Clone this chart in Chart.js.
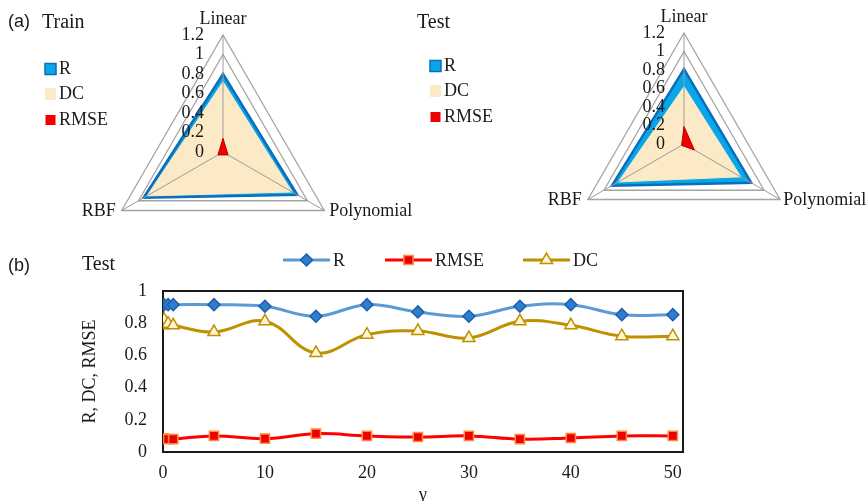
<!DOCTYPE html>
<html><head><meta charset="utf-8">
<script src="https://cdn.jsdelivr.net/npm/chart.js@4.4.1/dist/chart.umd.min.js"></script>
<style>
html,body{margin:0;padding:0;background:#fff;}
#wrap{position:relative;width:867px;height:501px;overflow:hidden;background:#fff;}
.box{position:absolute;}
</style></head><body>
<div id="wrap">
<div class="box" style="left:0;top:235px;width:867px;height:266px"><canvas id="lineChart"></canvas></div>
<div class="box" style="left:0;top:0;width:430px;height:280px"><canvas id="trainChart"></canvas></div>
<div class="box" style="left:400px;top:0;width:467px;height:280px"><canvas id="testChart"></canvas></div>
</div>
<script>
const SERIF = '"Liberation Serif", "Times New Roman", serif';
const SANS = '"Liberation Sans", Arial, sans-serif';
const TEXT = '#1a1a1a';

// ---------- radar data ----------
const kernels = ['Linear', 'Polynomial', 'RBF'];
const radarTicks = [0, 0.2, 0.4, 0.6, 0.8, 1, 1.2];
const radarTickLabels = ['0', '0.2', '0.4', '0.6', '0.8', '1', '1.2'];
const trainR = [0.80, 0.88, 0.94];
const trainDC = [0.72, 0.82, 0.90];
const trainRMSE = [0.14, 0.06, 0.06];
const testR = [0.81, 0.84, 0.90];
const testDC = [0.62, 0.71, 0.82];
const testRMSE = [0.19, 0.13, 0.03];
const radarSeries = ['R', 'DC', 'RMSE'];

// ---------- line data ----------
const gamma = [0, 0.1, 0.5, 1, 5, 10, 15, 20, 25, 30, 35, 40, 45, 50];
const lineR = [0.915, 0.915, 0.915, 0.915, 0.915, 0.905, 0.843, 0.915, 0.87, 0.843, 0.905, 0.915, 0.853, 0.853];
const lineRMSE = [0.083, 0.083, 0.08, 0.08, 0.10, 0.083, 0.114, 0.10, 0.093, 0.10, 0.08, 0.087, 0.10, 0.10];
const lineDC = [0.787, 0.822, 0.797, 0.787, 0.745, 0.812, 0.615, 0.729, 0.752, 0.708, 0.812, 0.787, 0.719, 0.719];
const xTicks = [0, 10, 20, 30, 40, 50];
const xTickLabels = ['0', '10', '20', '30', '40', '50'];
const yTicks = [0, 0.2, 0.4, 0.6, 0.8, 1];
const yTickLabels = ['0', '0.2', '0.4', '0.6', '0.8', '1'];

Chart.defaults.font.family = SERIF;
Chart.defaults.color = TEXT;

const COL = {
  rFill: '#07A7EA', rLine: '#0B6DBC',
  dc: '#FCE9C6',
  rmse: '#F20000', rmseLine: '#B80000',
  grid: '#a3a3a3'
};

function radarPlugin(cfg) {
  return {
    id: 'radarOverlay',
    afterDatasetDraw(chart, args) {
      if (args.index !== 1) return; // after DC fill: draw spokes
      const s = chart.scales.r, ctx = chart.ctx;
      ctx.save();
      ctx.strokeStyle = '#9c9c9c'; ctx.lineWidth = 1;
      for (let i = 0; i < kernels.length; i++) {
        const p = s.getPointPositionForValue(i, s.max);
        ctx.beginPath(); ctx.moveTo(s.xCenter, s.yCenter); ctx.lineTo(p.x, p.y); ctx.stroke();
      }
      ctx.restore();
    },
    afterDraw(chart) {
      const s = chart.scales.r, ctx = chart.ctx;
      ctx.save();
      ctx.fillStyle = TEXT;
      ctx.textBaseline = 'middle';
      ctx.font = '18px ' + SERIF;
      ctx.textAlign = 'right';
      radarTicks.forEach((v, i) => {
        const y = s.yCenter - s.getDistanceFromCenterForValue(v);
        ctx.fillText(radarTickLabels[i], s.xCenter - 19, y);
      });
      const p0 = s.getPointPositionForValue(0, s.max);
      const p1 = s.getPointPositionForValue(1, s.max);
      const p2 = s.getPointPositionForValue(2, s.max);
      ctx.textAlign = 'center';
      ctx.fillText(kernels[0], p0.x, p0.y - 16);
      ctx.textAlign = 'left';
      ctx.fillText(kernels[1], p1.x + cfg.polyDx, p1.y + 1);
      ctx.textAlign = 'right';
      ctx.fillText(kernels[2], p2.x - 6, p2.y + 1);
      ctx.textAlign = 'left';
      if (cfg.panel) {
        ctx.font = '18px ' + SANS;
        ctx.fillText(cfg.panel, cfg.panelX, cfg.titleY - 1);
      }
      ctx.font = '20px ' + SERIF;
      ctx.fillText(cfg.title, cfg.titleX, cfg.titleY);
      const lx = cfg.legX;
      ctx.font = '18px ' + SERIF;
      ctx.fillStyle = COL.rFill; ctx.strokeStyle = COL.rLine; ctx.lineWidth = 1.5;
      ctx.fillRect(lx, cfg.legY[0] - 5.5, 11, 11); ctx.strokeRect(lx, cfg.legY[0] - 5.5, 11, 11);
      ctx.fillStyle = COL.dc;
      ctx.fillRect(lx, cfg.legY[1] - 6, 11, 12);
      ctx.fillStyle = COL.rmse;
      ctx.fillRect(lx + 0.5, cfg.legY[2] - 5, 10, 10);
      ctx.fillStyle = TEXT;
      radarSeries.forEach((name, i) => ctx.fillText(name, lx + 14, cfg.legY[i] + 0.5));
      ctx.restore();
    }
  };
}

function makeRadar(id, R, DC, RMSE, pad, cfg) {
  return new Chart(document.getElementById(id), {
    type: 'radar',
    data: {
      labels: kernels,
      datasets: [
        { label: radarSeries[0], data: R, order: 3, fill: true, backgroundColor: COL.rFill, borderColor: COL.rLine, borderWidth: 2.5 },
        { label: radarSeries[1], data: DC, order: 2, fill: true, backgroundColor: COL.dc, borderColor: COL.dc, borderWidth: 1 },
        { label: radarSeries[2], data: RMSE, order: 1, fill: true, backgroundColor: COL.rmse, borderColor: COL.rmseLine, borderWidth: 1 }
      ]
    },
    options: {
      responsive: true, maintainAspectRatio: false, animation: false,
      layout: { padding: pad },
      plugins: { legend: { display: false }, tooltip: { enabled: false } },
      elements: { line: { tension: 0 }, point: { radius: 0, hoverRadius: 0 } },
      scales: {
        r: {
          min: 0, max: 1.2,
          ticks: { display: false, stepSize: 0.2 },
          grid: { color: COL.grid, lineWidth: 1.3 },
          angleLines: { display: false },
          pointLabels: { display: false }
        }
      }
    },
    plugins: [radarPlugin(cfg)]
  });
}

makeRadar('trainChart', trainR, trainDC, trainRMSE,
  { left: 106, right: 90, top: 35, bottom: 11 },
  { panel: '(a)', panelX: 8, title: 'Train', titleX: 42, titleY: 23, legX: 45, legY: [69, 94, 120], polyDx: 5 });

makeRadar('testChart', testR, testDC, testRMSE,
  { left: 173, right: 72, top: 33, bottom: 25 },
  { panel: null, title: 'Test', titleX: 17, titleY: 23, legX: 30, legY: [66, 91, 117], polyDx: 3 });

// ---------- line chart ----------
const lineSeries = [
  { label: 'R', data: lineR, color: '#5B9BD5', style: 'rectRot', radius: 6, bg: '#2E7ED0', bd: '#1D5EA8', legX: 283 },
  { label: 'RMSE', data: lineRMSE, color: '#FF0000', style: 'rect', radius: 6.5, bg: '#EE0000', bd: '#FF8A3D', legX: 385 },
  { label: 'DC', data: lineDC, color: '#BF9000', style: 'triangle', radius: 7, bg: '#FFF6DA', bd: '#BF9000', legX: 523 }
];

function drawMarker(ctx, style, r, x, y, bg, bd) {
  ctx.beginPath();
  if (style === 'rectRot') {
    ctx.moveTo(x, y - r); ctx.lineTo(x + r, y); ctx.lineTo(x, y + r); ctx.lineTo(x - r, y); ctx.closePath();
  } else if (style === 'rect') {
    const h = r * Math.SQRT1_2; ctx.rect(x - h, y - h, 2 * h, 2 * h);
  } else {
    const a = Math.PI / 6;
    ctx.moveTo(x, y - r);
    ctx.lineTo(x + r * Math.cos(a), y + r * Math.sin(a));
    ctx.lineTo(x - r * Math.cos(a), y + r * Math.sin(a));
    ctx.closePath();
  }
  ctx.fillStyle = bg; ctx.fill();
  ctx.strokeStyle = bd; ctx.lineWidth = 1.5; ctx.stroke();
}

const linePanel = {
  id: 'linePanel',
  beforeDatasetsDraw(chart) {
    const { ctx, chartArea: a } = chart;
    ctx.save();
    ctx.strokeStyle = '#1a1a1a'; ctx.lineWidth = 2;
    ctx.strokeRect(a.left, a.top, a.right - a.left, a.bottom - a.top);
    ctx.restore();
  },
  afterDraw(chart) {
    const ctx = chart.ctx;
    ctx.save();
    ctx.fillStyle = TEXT; ctx.textBaseline = 'middle'; ctx.textAlign = 'left';
    ctx.font = '18px ' + SANS;
    ctx.fillText('(b)', 8, 31);
    ctx.font = '20px ' + SERIF;
    ctx.fillText('Test', 82, 30);
    const ly = 25;
    lineSeries.forEach(s => {
      ctx.strokeStyle = s.color; ctx.lineWidth = 3;
      ctx.beginPath(); ctx.moveTo(s.legX, ly); ctx.lineTo(s.legX + 47, ly); ctx.stroke();
      drawMarker(ctx, s.style, s.radius, s.legX + 23.5, ly, s.bg, s.bd);
      ctx.fillStyle = TEXT; ctx.font = '18px ' + SERIF;
      ctx.fillText(s.label, s.legX + 50, ly + 1);
    });
    ctx.restore();
  }
};

new Chart(document.getElementById('lineChart'), {
  type: 'line',
  data: {
    datasets: lineSeries.map(s => ({
      label: s.label,
      data: gamma.map((g, i) => ({ x: g, y: s.data[i] })),
      borderColor: s.color, borderWidth: 3, tension: 0.4, fill: false,
      pointStyle: s.style, pointRadius: s.radius, pointHoverRadius: s.radius,
      pointBackgroundColor: s.bg, pointBorderColor: s.bd, pointBorderWidth: 1.5
    }))
  },
  options: {
    responsive: true, maintainAspectRatio: false, animation: false,
    layout: { padding: { left: 0, right: 184, top: 56, bottom: 0 } },
    plugins: { legend: { display: false }, tooltip: { enabled: false } },
    scales: {
      x: {
        type: 'linear', min: 0, max: 51,
        afterBuildTicks: s => { s.ticks = xTicks.map(v => ({ value: v })); },
        afterFit: s => { s.height = 49; },
        grid: { display: false, drawTicks: false },
        border: { display: false },
        ticks: { padding: 10, font: { size: 18, family: SERIF }, color: TEXT,
          callback: (v) => { const i = xTicks.indexOf(v); return i >= 0 ? xTickLabels[i] : ''; } },
        title: { display: true, text: 'γ', color: TEXT, font: { size: 18, family: SERIF, lineHeight: 0.6 }, padding: { top: 0, bottom: 0 } }
      },
      y: {
        min: 0, max: 1,
        afterBuildTicks: s => { s.ticks = yTicks.map(v => ({ value: v })); },
        afterFit: s => { s.width = 163; },
        grid: { display: false, drawTicks: false },
        border: { display: false },
        ticks: { padding: 16, font: { size: 18, family: SERIF }, color: TEXT,
          callback: (v) => { const i = yTicks.findIndex(t => Math.abs(t - v) < 1e-9); return i >= 0 ? yTickLabels[i] : ''; } },
        title: { display: true, text: 'R, DC, RMSE', color: TEXT, font: { size: 18, family: SERIF, lineHeight: 1.2 }, padding: { top: 79, bottom: 0 } }
      }
    }
  },
  plugins: [linePanel]
});
</script>
</body></html>
